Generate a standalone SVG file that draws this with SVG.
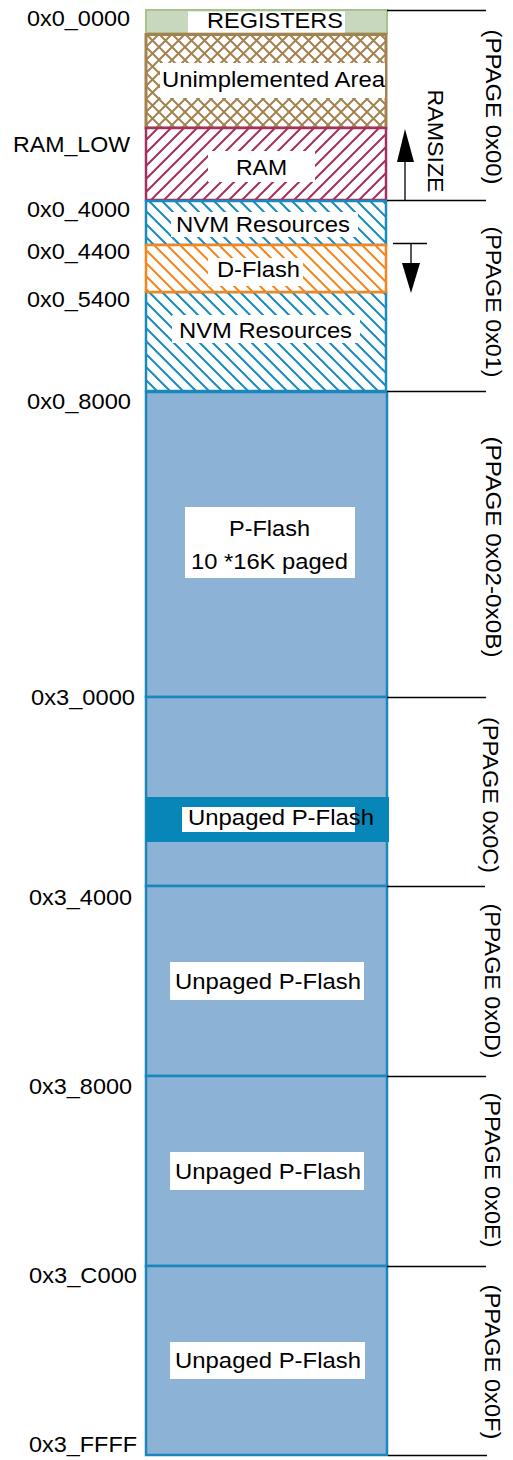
<svg xmlns="http://www.w3.org/2000/svg" width="513" height="1460" viewBox="0 0 513 1460">
<style>
text{font-family:"Liberation Sans",Arial,sans-serif;font-size:22px;fill:#000}
.wb{fill:#fff}
.tick{stroke:#000;stroke-width:1.3;fill:none}
.pf{fill:#8cb2d6;stroke:#1a87bc;stroke-width:2.5}
</style>
<defs>
<pattern id="hRam" patternUnits="userSpaceOnUse" width="13" height="13">
<path d="M-3,3 L3,-3 M0,13 L13,0 M10,16 L16,10" stroke="#a3305f" stroke-width="2"/>
</pattern>
<pattern id="hNvm" patternUnits="userSpaceOnUse" width="13" height="13">
<path d="M-3,10 L3,16 M0,0 L13,13 M10,-3 L16,3" stroke="#1a8bbf" stroke-width="2"/>
</pattern>
<pattern id="hDf" patternUnits="userSpaceOnUse" width="13" height="13">
<path d="M-3,10 L3,16 M0,0 L13,13 M10,-3 L16,3" stroke="#f5861f" stroke-width="2"/>
</pattern>
<pattern id="hX" patternUnits="userSpaceOnUse" width="13" height="13" x="146" y="34">
<path d="M0,0 L13,13 M0,13 L13,0" stroke="#a3824f" stroke-width="2"/>
</pattern>
</defs>

<rect width="513" height="1460" fill="#fff"/>

<g id="labels-left">
<text x="27" y="26" textLength="103" lengthAdjust="spacingAndGlyphs">0x0_0000</text>
<text x="13" y="152" textLength="117" lengthAdjust="spacingAndGlyphs">RAM_LOW</text>
<text x="27" y="217" textLength="103" lengthAdjust="spacingAndGlyphs">0x0_4000</text>
<text x="27" y="259" textLength="103" lengthAdjust="spacingAndGlyphs">0x0_4400</text>
<text x="27" y="307" textLength="103" lengthAdjust="spacingAndGlyphs">0x0_5400</text>
<text x="27" y="409" textLength="104" lengthAdjust="spacingAndGlyphs">0x0_8000</text>
<text x="31" y="705" textLength="104" lengthAdjust="spacingAndGlyphs">0x3_0000</text>
<text x="29" y="905" textLength="103" lengthAdjust="spacingAndGlyphs">0x3_4000</text>
<text x="29" y="1094" textLength="103" lengthAdjust="spacingAndGlyphs">0x3_8000</text>
<text x="29" y="1283" textLength="108" lengthAdjust="spacingAndGlyphs">0x3_C000</text>
<text x="29" y="1452" textLength="108" lengthAdjust="spacingAndGlyphs">0x3_FFFF</text>
</g>

<g id="registers">
<rect x="146" y="10" width="241" height="23" fill="#c8d8bf" stroke="#a9c18f" stroke-width="2"/>
<rect class="wb" x="188" y="11.5" width="157" height="21"/>
<text x="207" y="28" textLength="136" lengthAdjust="spacingAndGlyphs">REGISTERS</text>
</g>

<g id="unimplemented">
<rect x="146" y="34.5" width="240" height="93.5" fill="#fff"/>
<rect x="146" y="34.5" width="240" height="93.5" fill="url(#hX)" stroke="#a3824f" stroke-width="3"/>
<rect class="wb" x="160" y="63" width="225" height="35"/>
<text x="162" y="87" textLength="223" lengthAdjust="spacingAndGlyphs">Unimplemented Area</text>
</g>

<g id="ram">
<rect x="146" y="128" width="240" height="72" fill="#fff"/>
<rect x="146" y="128" width="240" height="72" fill="url(#hRam)" stroke="#a3305f" stroke-width="2.5"/>
<rect class="wb" x="208" y="151" width="107" height="31"/>
<text x="236" y="175" textLength="51" lengthAdjust="spacingAndGlyphs">RAM</text>
</g>

<g id="nvm1">
<rect x="146" y="201" width="240" height="44" fill="#fff"/>
<rect x="146" y="201" width="240" height="44" fill="url(#hNvm)" stroke="#1a8bbf" stroke-width="2.5"/>
<rect class="wb" x="171" y="212" width="187" height="25"/>
<text x="176" y="232" textLength="174" lengthAdjust="spacingAndGlyphs">NVM Resources</text>
</g>

<g id="nvm2">
<rect x="146" y="292" width="240" height="99" fill="#fff"/>
<rect x="146" y="292" width="240" height="99" fill="url(#hNvm)" stroke="#1a8bbf" stroke-width="2.5"/>
<rect class="wb" x="172" y="315" width="188" height="28"/>
<text x="179" y="338" textLength="173" lengthAdjust="spacingAndGlyphs">NVM Resources</text>
</g>

<g id="dflash">
<rect x="146" y="245" width="240" height="47" fill="#fff"/>
<rect x="146" y="245" width="240" height="47" fill="url(#hDf)" stroke="#f5861f" stroke-width="2.5"/>
<rect class="wb" x="208" y="258" width="95" height="28"/>
<text x="217" y="277" textLength="83" lengthAdjust="spacingAndGlyphs">D-Flash</text>
</g>

<g id="pflash-paged">
<rect class="pf" x="146" y="392" width="241" height="305"/>
<rect class="wb" x="185" y="507" width="170" height="71"/>
<text x="229" y="536" textLength="81" lengthAdjust="spacingAndGlyphs">P-Flash</text>
<text x="191" y="569" textLength="157" lengthAdjust="spacingAndGlyphs">10 *16K paged</text>
</g>

<g id="pflash-0c">
<rect class="pf" x="146" y="697" width="241" height="189"/>
<rect x="146" y="797" width="243" height="45" fill="#0886b8"/>
<rect class="wb" x="182" y="807" width="173" height="25"/>
<text x="188" y="825" textLength="186" lengthAdjust="spacingAndGlyphs">Unpaged P-Flash</text>
</g>

<g id="pflash-0d">
<rect class="pf" x="146" y="886" width="241" height="190"/>
<rect class="wb" x="170" y="962" width="194" height="38"/>
<text x="175" y="989" textLength="186" lengthAdjust="spacingAndGlyphs">Unpaged P-Flash</text>
</g>

<g id="pflash-0e">
<rect class="pf" x="146" y="1076" width="241" height="190"/>
<rect class="wb" x="170" y="1152" width="194" height="38"/>
<text x="175" y="1179" textLength="186" lengthAdjust="spacingAndGlyphs">Unpaged P-Flash</text>
</g>

<g id="pflash-0f">
<rect class="pf" x="146" y="1266" width="241" height="189"/>
<rect class="wb" x="170" y="1342" width="195" height="37"/>
<text x="175" y="1368" textLength="186" lengthAdjust="spacingAndGlyphs">Unpaged P-Flash</text>
</g>

<g id="connectors">
<path class="tick" d="M387,10.5H486 M387,200.5H486 M387,391.5H486 M387,697.5H486 M387,886.5H485 M387,1076.5H486 M387,1266.5H486 M388,1455.5H487"/>
<path class="tick" d="M405,200V160"/>
<polygon points="405,129 397,162 414,162" fill="#000"/>
<path class="tick" d="M393,243.5H427 M411,243V264"/>
<polygon points="402,263 420,263 411,293" fill="#000"/>
</g>

<g id="labels-right">
<text transform="translate(428,141) rotate(90)" text-anchor="middle" textLength="103" lengthAdjust="spacingAndGlyphs">RAMSIZE</text>
<text transform="translate(486,107) rotate(90)" text-anchor="middle" textLength="155" lengthAdjust="spacingAndGlyphs">(PPAGE 0x00)</text>
<text transform="translate(486,302) rotate(90)" text-anchor="middle" textLength="151" lengthAdjust="spacingAndGlyphs">(PPAGE 0x01)</text>
<text transform="translate(486,547) rotate(90)" text-anchor="middle" textLength="221" lengthAdjust="spacingAndGlyphs">(PPAGE 0x02-0x0B)</text>
<text transform="translate(483,795) rotate(90)" text-anchor="middle" textLength="156" lengthAdjust="spacingAndGlyphs">(PPAGE 0x0C)</text>
<text transform="translate(485,981) rotate(90)" text-anchor="middle" textLength="155" lengthAdjust="spacingAndGlyphs">(PPAGE 0x0D)</text>
<text transform="translate(485,1170) rotate(90)" text-anchor="middle" textLength="155" lengthAdjust="spacingAndGlyphs">(PPAGE 0x0E)</text>
<text transform="translate(485,1362) rotate(90)" text-anchor="middle" textLength="155" lengthAdjust="spacingAndGlyphs">(PPAGE 0x0F)</text>
</g>
</svg>
